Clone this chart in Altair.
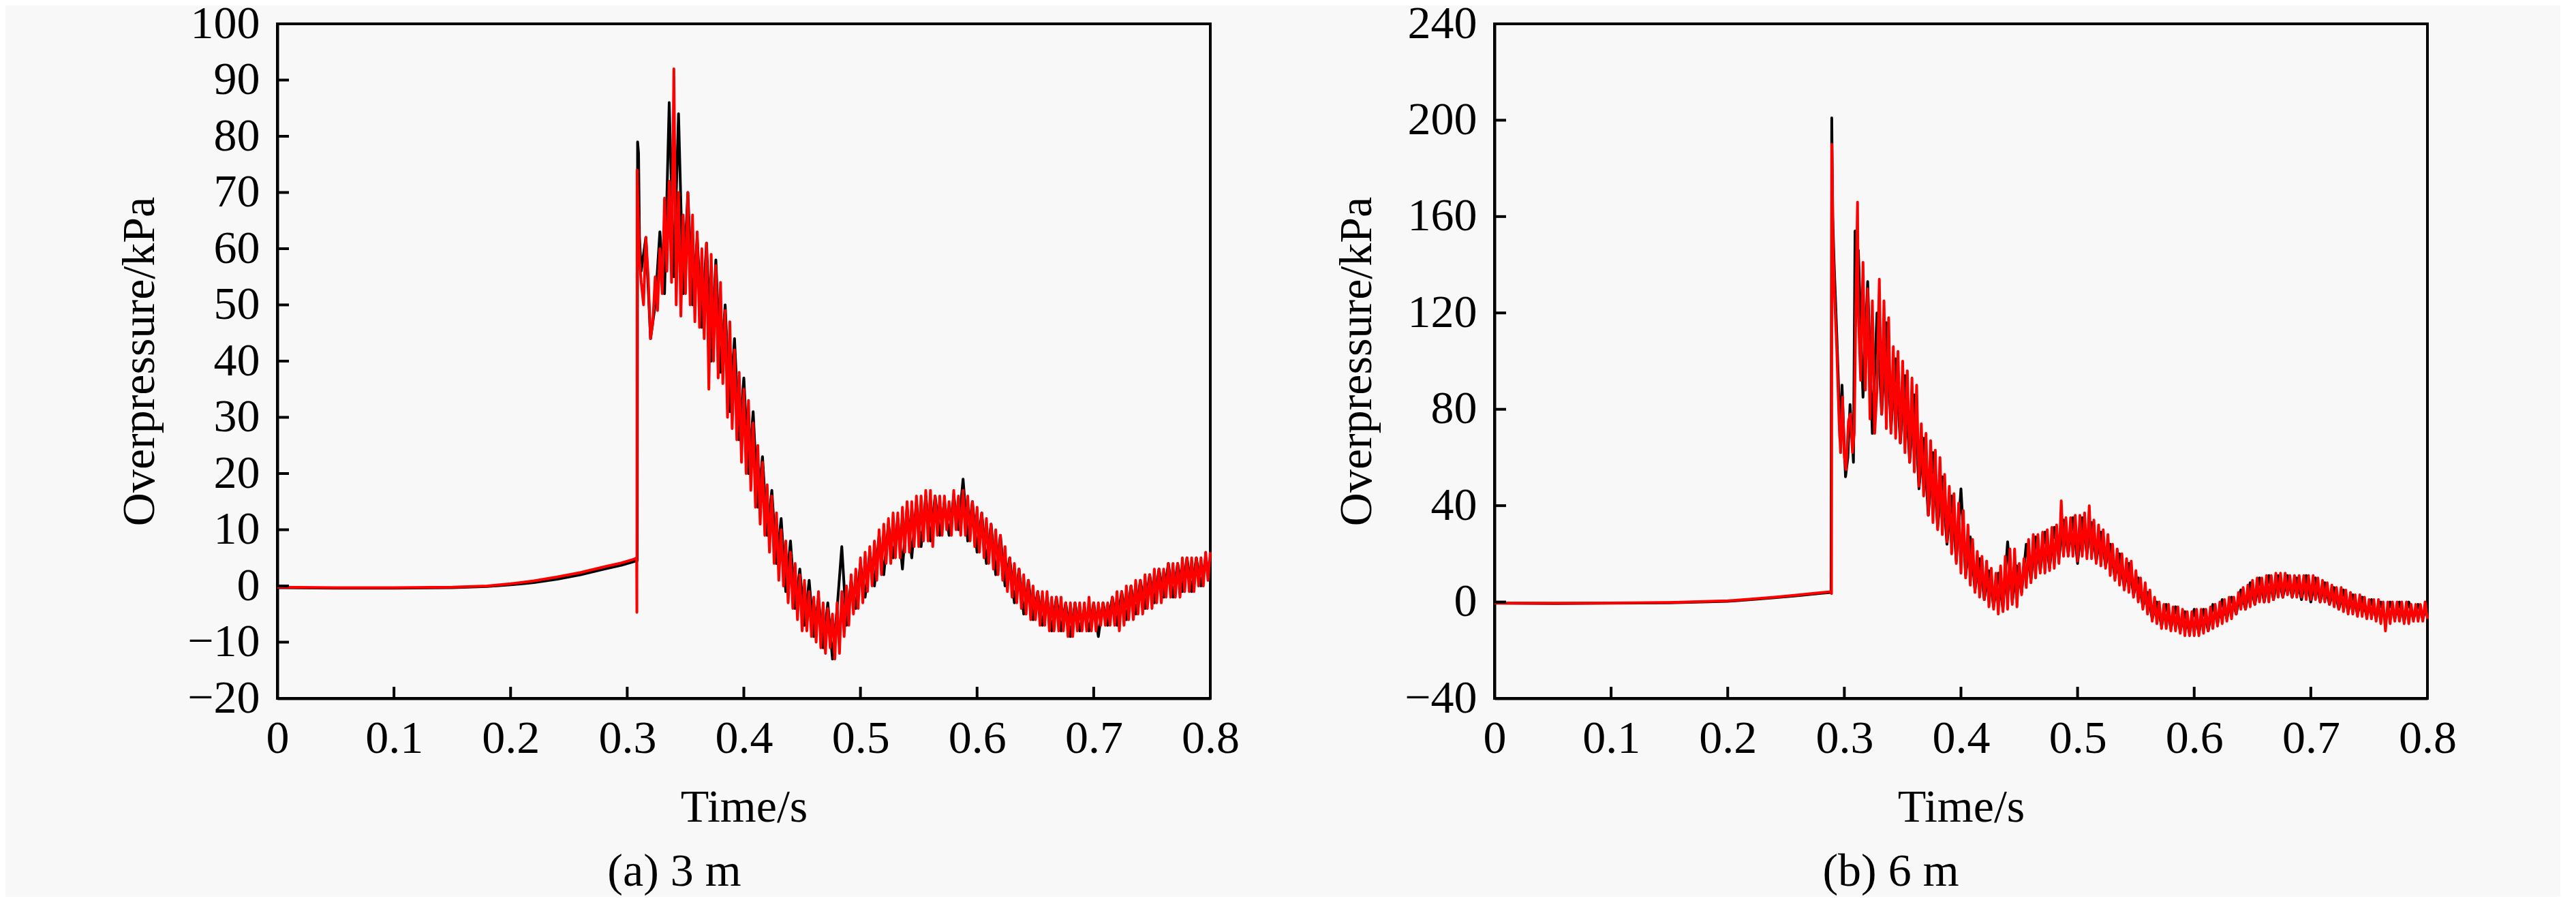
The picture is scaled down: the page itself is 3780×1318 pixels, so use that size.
import altair as alt
import pandas as pd
import numpy as np

# ---------------- data ----------------
X_TICKS = [0, 0.1, 0.2, 0.3, 0.4, 0.5, 0.6, 0.7, 0.8]
Y_TICKS_A = [-20, -10, 0, 10, 20, 30, 40, 50, 60, 70, 80, 90, 100]
Y_TICKS_B = [-40, 0, 40, 80, 120, 160, 200, 240]

# (a) 3 m  - black series (noisy part sampled every 4 ms from 0.312 s)
a_black_pre_t = [0.0, 0.05, 0.1, 0.15, 0.18, 0.2, 0.22, 0.24, 0.26, 0.28, 0.295, 0.305, 0.3086, 0.3089, 0.3097, 0.3105]
a_black_pre_v = [-0.3, -0.4, -0.4, -0.3, -0.1, 0.2, 0.6, 1.2, 2.0, 3.0, 3.7, 4.3, 4.5, 79.0, 77.0, 62.0]
a_black_noise_v = [
    56, 62, 44, 50, 63, 52, 86, 55, 84, 52,
    70, 50, 62, 46, 61, 40, 58, 38, 50, 31,
    44, 26, 37, 20, 31, 14, 23, 9, 17, 4,
    12, -1, 8, -4, 3, -7, 1, -9, -2, -11,
    -3, -13, -4, 7, -7, 1, -4, 4, -2, 6,
    0, 9, 2, 11, 5, 12, 3, 14, 5, 15,
    7, 16, 8, 16, 9, 15, 9, 16, 10, 19,
    8, 15, 6, 13, 4, 11, 2, 9, 0, 5,
    -3, 3, -5, 1, -6, -1, -7, -2, -8, -2,
    -8, -3, -9, -3, -8, -4, -8, -3, -9, -3,
    -7, -2, -7, -1, -6, 0, -5, 1, -4, 2,
    -3, 3, -2, 4, -2, 4, -1, 5, -1, 5,
    0, 5, 1]
# (a) 3 m  - red series (noisy part sampled every 2 ms from 0.312 s)
a_red_pre_t = [0.0, 0.05, 0.1, 0.15, 0.18, 0.2, 0.22, 0.24, 0.26, 0.28, 0.295, 0.305, 0.3081, 0.3083, 0.3085, 0.3095, 0.3105]
a_red_pre_v = [-0.2, -0.3, -0.3, -0.2, 0.0, 0.4, 0.9, 1.6, 2.4, 3.4, 4.1, 4.7, 5.0, -4.7, 74.0, 66.0, 58.0]
a_red_noise_v = [
    54, 50, 62, 55, 44, 47, 55, 49, 60, 52,
    69, 56, 72, 54, 92, 50, 70, 48, 66, 52,
    70, 50, 66, 47, 63, 46, 60, 44, 61, 35,
    59, 40, 57, 37, 54, 36, 49, 30, 47, 28,
    42, 26, 38, 22, 35, 20, 33, 17, 29, 14,
    25, 11, 22, 9, 18, 6, 16, 4, 13, 1,
    10, 0, 8, -3, 6, -4, 4, -6, 2, -8,
    1, -8, -1, -9, -2, -10, -1, -11, -3, -12,
    -4, -11, -5, -13, -3, -12, -1, -9, 0, -7,
    2, -5, 3, -4, 5, -3, 6, -1, 7, 0,
    8, 1, 10, 2, 11, 4, 12, 4, 13, 5,
    13, 5, 14, 6, 15, 6, 15, 7, 16, 7,
    16, 8, 17, 8, 17, 7, 16, 9, 16, 9,
    16, 10, 15, 9, 17, 10, 16, 9, 17, 9,
    16, 8, 15, 7, 14, 6, 13, 5, 12, 4,
    11, 3, 10, 2, 9, 1, 7, -1, 5, -2,
    4, -3, 3, -4, 2, -5, 1, -6, 0, -6,
    -1, -7, -1, -7, -1, -8, -2, -8, -2, -8,
    -2, -8, -3, -9, -3, -9, -3, -8, -3, -8,
    -3, -8, -2, -8, -3, -8, -3, -7, -3, -7,
    -3, -7, -2, -7, -1, -8, -1, -7, 0, -6,
    0, -6, 1, -5, 1, -5, 2, -4, 2, -4,
    3, -3, 3, -3, 3, -2, 4, -2, 4, -2,
    4, -2, 5, -1, 5, -1, 5, -1, 5, 0,
    5, 0, 6, 1, 6]

# (b) 6 m  - black series (noisy part sampled every 4 ms from 0.312 s)
b_black_pre_t = [0.0, 0.05, 0.1, 0.15, 0.2, 0.22, 0.24, 0.26, 0.28, 0.2886, 0.2892, 0.2900, 0.2912, 0.2932,
                 0.2950, 0.2962, 0.2980, 0.2995, 0.3010, 0.3030, 0.3049, 0.3065, 0.3078, 0.3092, 0.3105]
b_black_pre_v = [-0.5, -0.6, -0.5, -0.3, 0.3, 1.0, 1.8, 2.6, 3.6, 4.0, 201.0, 160.0, 141.0, 115.0,
                 90.0, 68.0, 90.0, 70.0, 52.0, 60.0, 82.0, 70.0, 58.0, 154.0, 120.0]
b_black_noise_v = [
    146, 85, 133, 70, 120, 78, 116, 72, 101, 66,
    94, 58, 86, 47, 68, 36, 62, 31, 52, 24,
    44, 17, 47, 11, 27, 5, 18, 1, 13, -2,
    12, -3, 25, 0, 15, 4, 24, 9, 27, 13,
    29, 14, 31, 18, 34, 20, 35, 16, 35, 20,
    33, 17, 29, 15, 24, 10, 20, 6, 16, 3,
    10, -2, 4, -7, 0, -10, -1, -11, -2, -12,
    -4, -13, -3, -13, -3, -12, -1, -9, 1, -7,
    2, -5, 5, -3, 8, -1, 10, 0, 11, 1,
    11, 2, 11, 2, 10, 1, 11, 0, 10, 0,
    8, -1, 6, -3, 5, -4, 3, -5, 2, -6,
    1, -7, 0, -8, 0, -7, 0, -8, 0, -7,
    -1, -7, -1]
# (b) 6 m  - red series (noisy part sampled every 2 ms from 0.312 s)
b_red_pre_t = [0.0, 0.05, 0.1, 0.15, 0.2, 0.22, 0.24, 0.26, 0.28, 0.2885, 0.2890, 0.2893, 0.2903, 0.2915,
               0.2935, 0.2955, 0.2968, 0.2985, 0.3000, 0.3015, 0.3035, 0.3052, 0.3070, 0.3085, 0.3098, 0.3113]
b_red_pre_v = [-0.4, -0.5, -0.4, -0.2, 0.5, 1.2, 2.0, 2.9, 3.9, 4.3, 3.5, 190.0, 150.0, 128.0,
               105.0, 75.0, 62.0, 85.0, 60.0, 55.0, 75.0, 78.0, 62.0, 70.0, 120.0, 166.0]
b_red_noise_v = [
    120, 92, 141, 88, 130, 76, 125, 70, 88, 134,
    78, 125, 72, 118, 70, 106, 68, 104, 66, 100,
    62, 96, 58, 93, 54, 90, 48, 74, 44, 70,
    36, 67, 33, 63, 30, 60, 28, 53, 25, 48,
    20, 45, 16, 41, 12, 38, 10, 32, 7, 26,
    4, 21, 2, 19, 1, 17, -2, 14, -3, 12,
    -5, 15, -4, 19, -3, 22, -1, 22, -2, 16,
    3, 18, 6, 26, 8, 28, 10, 28, 12, 29,
    12, 30, 13, 31, 14, 32, 16, 42, 19, 35,
    19, 35, 19, 36, 17, 36, 19, 37, 18, 40,
    18, 34, 16, 32, 15, 30, 14, 28, 11, 24,
    9, 22, 7, 20, 5, 18, 4, 17, 2, 13,
    0, 10, -3, 8, -5, 5, -8, 2, -9, 0,
    -11, -1, -11, -1, -12, -2, -12, -2, -13, -3,
    -14, -4, -14, -4, -14, -3, -14, -3, -13, -3,
    -12, -2, -11, -1, -10, 0, -9, 1, -8, 2,
    -7, 2, -5, 4, -3, 6, -3, 7, -2, 9,
    -1, 10, 0, 10, 0, 11, 0, 11, 1, 12,
    2, 12, 2, 12, 3, 11, 2, 11, 2, 11,
    2, 11, 1, 11, 1, 11, 1, 10, 0, 9,
    0, 8, -1, 7, -2, 6, -3, 6, -4, 5,
    -5, 4, -5, 3, -6, 3, -6, 2, -7, 1,
    -7, 1, -8, 1, -9, 0, -12, 0, -9, 0,
    -8, 0, -8, 0, -9, 0, -9, -1, -8, -1,
    -8, -1, -8, 0, -7]

# ---------------- styling ----------------
FONT = "Liberation Serif"
FS = 68
W, H = 1369, 990
BLACK = "#000000"
RED = "#ff0000"
BG = "#f8f8f8"


def series_df(pre_t, pre_v, noise_v, t0, step):
    t = list(pre_t) + [round(t0 + step * i, 4) for i in range(len(noise_v))]
    v = list(pre_v) + list(noise_v)
    return pd.DataFrame({"t": t, "v": v, "o": range(len(t))})


def panel(bt, bv, bn, rt, rv, rn, ydom, yticks, caption, dx):
    dfb = series_df(bt, bv, bn, 0.312, 0.004)
    dfr = series_df(rt, rv, rn, 0.312, 0.002)
    xs = alt.Scale(domain=[0, 0.8], nice=False, zero=False)
    ys = alt.Scale(domain=ydom, nice=False, zero=False)
    xaxis = alt.Axis(values=X_TICKS, format="~r", title="Time/s", ticks=False, tickSize=0,
                     labelPadding=25, titleX=W / 2, titleY=180, titleBaseline="alphabetic",
                     titleAlign="center")
    yaxis = alt.Axis(values=yticks, format="~r", title="Overpressure/kPa", ticks=False, tickSize=0,
                     labelPadding=26, titleX=-182, titleY=H / 2, titleAngle=270,
                     titleBaseline="alphabetic", titleAlign="center")
    X = alt.X("t:Q", scale=xs, axis=xaxis)
    Y = alt.Y("v:Q", scale=ys, axis=yaxis)
    black = alt.Chart(dfb).mark_line(color=BLACK, strokeWidth=4, strokeJoin="round").encode(
        x=X, y=Y, order="o:Q")
    red = alt.Chart(dfr).mark_line(color=RED, strokeWidth=4, strokeJoin="round").encode(
        x=X, y=Y, order="o:Q")
    xt = alt.Chart(pd.DataFrame({"t": X_TICKS[1:-1]})).mark_rule(color=BLACK, strokeWidth=4).encode(
        x=X, y=alt.value(H - 17), y2=alt.value(H))
    yt = alt.Chart(pd.DataFrame({"v": yticks[1:-1]})).mark_rule(color=BLACK, strokeWidth=4).encode(
        y=Y, x=alt.value(0), x2=alt.value(17))
    return alt.layer(black, red, xt, yt).properties(
        width=W, height=H,
        title=alt.TitleParams(caption, orient="bottom", anchor="middle", frame="group", dx=dx,
                              offset=27, baseline="top", font=FONT, fontSize=FS,
                              fontWeight="normal", color=BLACK))


left = panel(a_black_pre_t, a_black_pre_v, a_black_noise_v,
             a_red_pre_t, a_red_pre_v, a_red_noise_v,
             [-20, 100], Y_TICKS_A, "(a) 3 m", -102)
right = panel(b_black_pre_t, b_black_pre_v, b_black_noise_v,
              b_red_pre_t, b_red_pre_v, b_red_noise_v,
              [-40, 240], Y_TICKS_B, "(b) 6 m", -103)

chart = alt.hconcat(left, right, spacing=134).properties(
    padding={"left": 161, "top": -9, "right": 150, "bottom": 0},
    background=BG,
).configure_view(stroke=BLACK, strokeWidth=4).configure_axis(
    domainColor=BLACK, domainWidth=4, grid=False,
    labelFont=FONT, labelFontSize=FS, labelColor=BLACK, labelFlush=False, labelOverlap=False,
    labelLimit=500,
    titleFont=FONT, titleFontSize=FS, titleColor=BLACK, titleFontWeight="normal",
)

chart.save("out.html", embed_options={"renderer": "svg", "actions": False})
